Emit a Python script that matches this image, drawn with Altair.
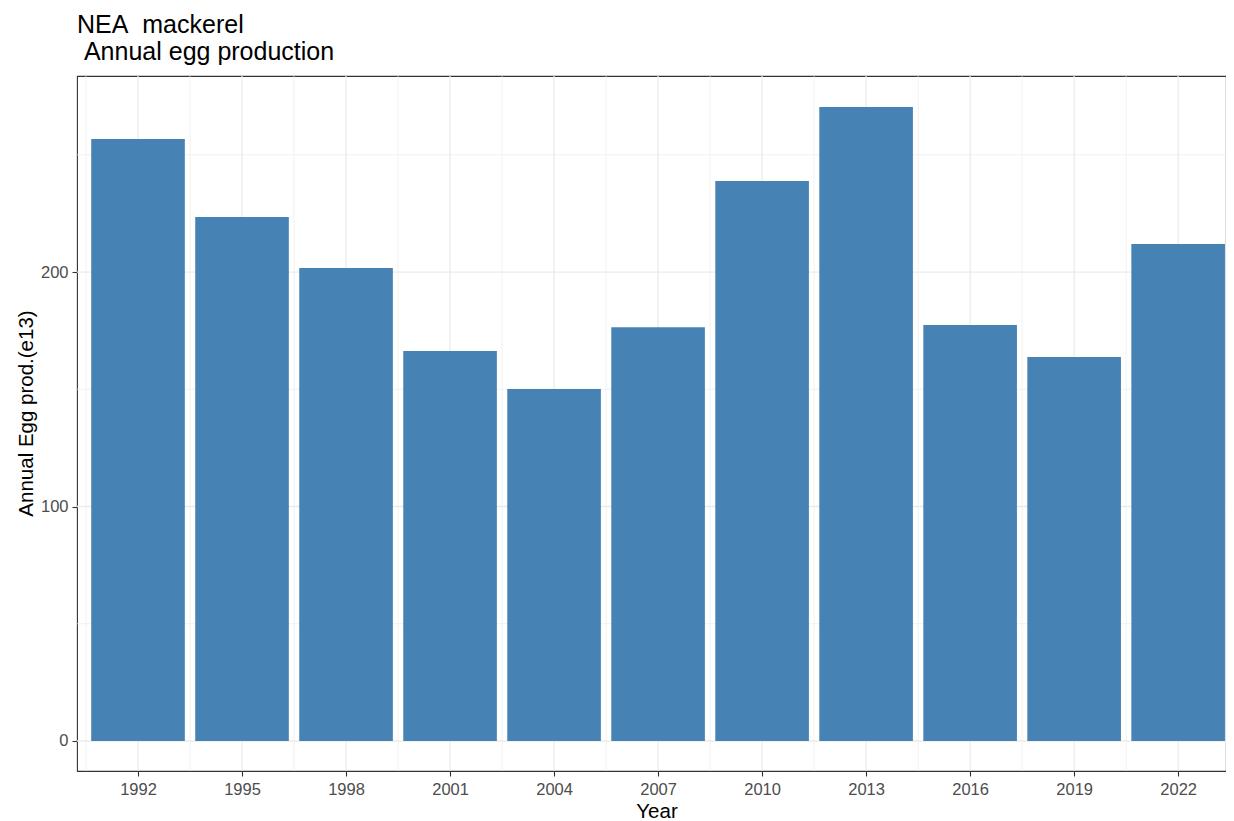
import altair as alt
import pandas as pd

# Data
years = [1992, 1995, 1998, 2001, 2004, 2007, 2010, 2013, 2016, 2019, 2022]
egg_prod = [256.7, 223.5, 201.7, 166.3, 150.1, 176.5, 238.8, 270.4, 177.4, 163.8, 211.9]
y_major = [0, 100, 200]
y_minor = [50, 150, 250]

half_width = 1.35
bars = pd.DataFrame({
    "year": years,
    "x0": [y - half_width for y in years],
    "x1": [y + half_width for y in years],
    "value": egg_prod,
})
x_minor = pd.DataFrame({"x": [y + 1.5 for y in years[:-1]] + [years[0] - 1.5]})
y_minor_df = pd.DataFrame({"y": y_minor})
y_major_df = pd.DataFrame({"y": y_major})
x_major_df = pd.DataFrame({"x": years})

FONT = "Liberation Sans"
W, H = 1149, 695
xscale = alt.Scale(domain=[1990.24, 2023.38], nice=False, zero=False)
yscale = alt.Scale(domain=[-12.8, 283.6], nice=False, zero=False)
GRID = "#EBEBEB"

xaxis = alt.Axis(
    values=years, format="d", title="Year", grid=False, domain=False,
    tickColor="#333333", tickSize=5, tickWidth=1.1,
    labelColor="#4D4D4D", labelFontSize=16.5, labelFont=FONT, labelPadding=5,
    titleFont=FONT, titleFontSize=20.5, titleFontWeight="normal", titleColor="#000000",
    titleX=579.5, titleY=46, titleBaseline="alphabetic",
    titleAlign="center", labelFlush=False, labelOverlap=False,
)
yaxis = alt.Axis(
    values=y_major, title="Annual Egg prod.(e13)", grid=False, domain=False,
    tickColor="#333333", tickSize=5, tickWidth=1.1,
    labelColor="#4D4D4D", labelFontSize=16.5, labelFont=FONT, labelPadding=4,
    titleFont=FONT, titleFontSize=20.5, titleFontWeight="normal", titleColor="#000000",
    titleX=-45, titleY=337, titleAngle=-90, titleBaseline="alphabetic",
    titleAlign="center", labelFlush=False,
)

minor_x = alt.Chart(x_minor).mark_rule(color=GRID, strokeWidth=0.7).encode(
    x=alt.X("x:Q", scale=xscale, axis=xaxis)
)
minor_y = alt.Chart(y_minor_df).mark_rule(color=GRID, strokeWidth=0.7).encode(
    y=alt.Y("y:Q", scale=yscale, axis=yaxis)
)
major_x = alt.Chart(x_major_df).mark_rule(color=GRID, strokeWidth=1.3).encode(
    x=alt.X("x:Q", scale=xscale, axis=xaxis)
)
major_y = alt.Chart(y_major_df).mark_rule(color=GRID, strokeWidth=1.3).encode(
    y=alt.Y("y:Q", scale=yscale, axis=yaxis)
)

bar = alt.Chart(bars).mark_rect(color="#4682B4").encode(
    x=alt.X("x0:Q", scale=xscale, axis=xaxis),
    x2="x1:Q",
    y=alt.Y("value:Q", scale=yscale, axis=yaxis),
    y2=alt.Y2(datum=0),
)

chart = (
    alt.layer(minor_x, minor_y, major_x, major_y, bar)
    .properties(
        width=W,
        height=H,
        padding={"left": 69, "top": 68, "right": 0, "bottom": 50},
        autosize=alt.AutoSizeParams(type="none"),
        title=alt.TitleParams(
            text=["NEA\u00a0 mackerel", "\u200b\u00a0Annual egg production"],
            anchor="start",
            frame="group",
            font=FONT,
            fontSize=25,
            fontWeight="normal",
            color="#000000",
            lineHeight=27,
            offset=10,
        ),
    )
    .configure(background="white")
    .configure_view(stroke="#333333", strokeWidth=1.1)
)

chart.save("out.html", embed_options={"renderer": "svg", "actions": False})
